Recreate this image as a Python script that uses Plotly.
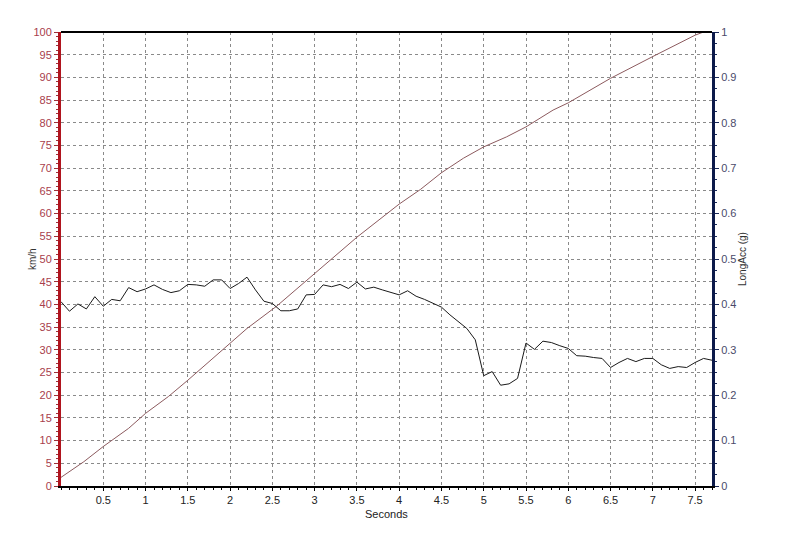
import plotly.graph_objects as go

# Speed trace (km/h)
speed_t = [0, 0.27, 0.5, 0.8, 1.0, 1.27, 1.5, 2.0, 2.2, 2.55, 3.0, 3.5, 4.0, 4.25, 4.5,
           4.76, 5.0, 5.08, 5.27, 5.5, 5.82, 6.0, 6.5, 7.0, 7.5, 7.6]
speed_v = [1.9, 5.35, 8.7, 12.7, 16.0, 19.7, 23.3, 31.4, 34.7, 39.6, 46.8, 54.8, 62.1, 65.3, 69.0,
           72.2, 74.7, 75.3, 76.9, 79.1, 82.8, 84.4, 89.8, 94.6, 99.3, 100.0]

# Longitudinal acceleration (g), sampled every 0.1 s from 0 to 7.7 s
acc_t = [round(i * 0.1, 1) for i in range(78)]
acc_v = [0.406, 0.385, 0.401, 0.390, 0.417, 0.396, 0.411, 0.408, 0.437, 0.428,
         0.434, 0.443, 0.433, 0.426, 0.430, 0.444, 0.443, 0.440, 0.454, 0.454,
         0.435, 0.446, 0.460, 0.432, 0.407, 0.402, 0.386, 0.386, 0.390, 0.421,
         0.422, 0.443, 0.439, 0.444, 0.435, 0.449, 0.434, 0.438, 0.432, 0.426,
         0.421, 0.430, 0.418, 0.411, 0.402, 0.394, 0.377, 0.363, 0.347, 0.322,
         0.243, 0.252, 0.222, 0.225, 0.237, 0.315, 0.301, 0.319, 0.316, 0.309,
         0.303, 0.287, 0.286, 0.283, 0.281, 0.261, 0.272, 0.281, 0.274, 0.281,
         0.281, 0.267, 0.259, 0.263, 0.261, 0.272, 0.281, 0.277]

x_ticks = [0.5, 1, 1.5, 2, 2.5, 3, 3.5, 4, 4.5, 5, 5.5, 6, 6.5, 7, 7.5]
x_labels = ["0.5", "1", "1.5", "2", "2.5", "3", "3.5", "4", "4.5", "5", "5.5", "6", "6.5", "7", "7.5"]
y1_ticks = list(range(0, 101, 5))
y2_ticks = [0, 0.1, 0.2, 0.3, 0.4, 0.5, 0.6, 0.7, 0.8, 0.9, 1]
y2_labels = ["0", "0.1", "0.2", "0.3", "0.4", "0.5", "0.6", "0.7", "0.8", "0.9", "1"]

FONT = "Liberation Sans, Arial, sans-serif"

fig = go.Figure()
fig.add_trace(go.Scatter(x=speed_t, y=speed_v, mode="lines",
                         line=dict(color="#8c5a5e", width=1), yaxis="y", showlegend=False))
fig.add_trace(go.Scatter(x=acc_t, y=acc_v, mode="lines",
                         line=dict(color="#1a1a1a", width=1), yaxis="y2", showlegend=False))

grid = dict(showgrid=True, gridcolor="#8a8a8a", gridwidth=1, griddash="3px,3px")

fig.update_layout(
    width=800, height=533,
    margin=dict(l=53, r=96, t=24, b=55),
    paper_bgcolor="white", plot_bgcolor="white",
    font=dict(family=FONT, size=11, color="#222"),
    xaxis=dict(range=[0, 7.7], tickvals=x_ticks, ticktext=x_labels,
               ticks="outside", ticklen=3, tickcolor="#000", tickwidth=1,
               minor=dict(dtick=0.1, ticks="outside", ticklen=2, tickcolor="#000", showgrid=False),
               showline=True, linecolor="#000", linewidth=2, mirror=False,
               zeroline=False,
               tickfont=dict(size=11, color="#222"), **grid),
    yaxis=dict(range=[0, 100], tickvals=y1_ticks,
               ticks="outside", ticklen=4, tickcolor="#a0303a", tickwidth=1,
               minor=dict(dtick=1, ticks="outside", ticklen=2, tickcolor="#a0303a", showgrid=False),
               showline=True, linecolor="#b0141e", linewidth=3,
               zeroline=False,
               tickfont=dict(size=11, color="#a8404c"), **grid),
    yaxis2=dict(range=[0, 1], overlaying="y", side="right", tickvals=y2_ticks, ticktext=y2_labels,
                ticks="outside", ticklen=4, tickcolor="#1a2a5a", tickwidth=1,
                minor=dict(dtick=0.025, ticks="outside", ticklen=2, tickcolor="#1a2a5a", showgrid=False),
                showline=True, linecolor="#0c1a4a", linewidth=3,
                showgrid=False, zeroline=False,
                tickfont=dict(size=11, color="#4a4a6a")),
)

# axis titles placed as annotations for precise positioning
fig.add_annotation(text="Seconds", xref="paper", yref="paper", x=0.5, y=0,
                   yanchor="top", xanchor="center", yshift=-20, showarrow=False,
                   font=dict(size=11, color="#222"))
fig.add_annotation(text="km/h", xref="paper", yref="paper", x=0, y=0.5,
                   xanchor="center", yanchor="middle", xshift=-29, textangle=-90, showarrow=False,
                   font=dict(size=10, color="#333"))
fig.add_annotation(text="LongAcc (g)", xref="paper", yref="paper", x=1, y=0.5,
                   xanchor="center", yanchor="middle", xshift=30, textangle=-90, showarrow=False,
                   font=dict(size=10, color="#333"))

# top border of the plot frame
fig.add_shape(type="line", xref="paper", yref="paper", x0=0, x1=1, y0=1, y1=1,
              line=dict(color="#000", width=2))

fig.write_html("out.html")
